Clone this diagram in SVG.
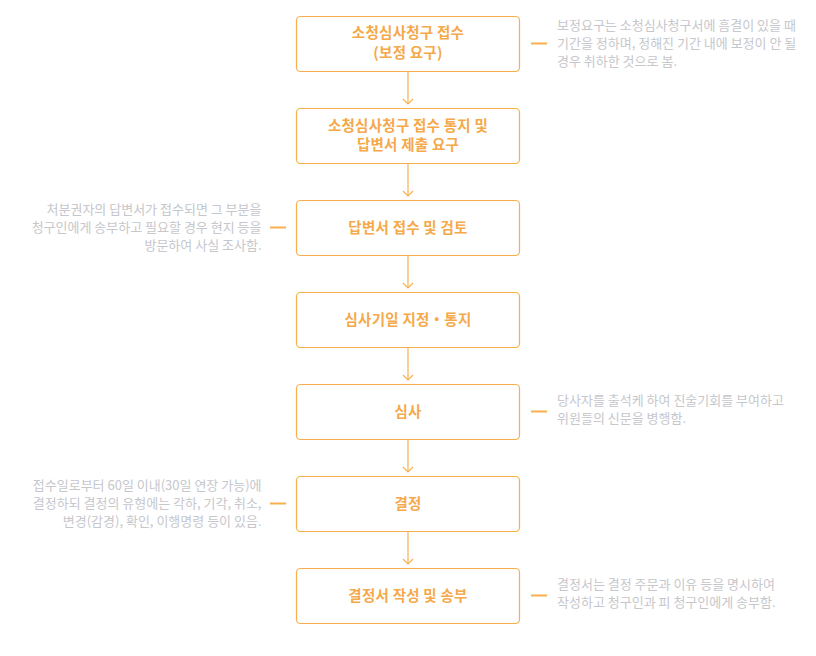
<svg xmlns="http://www.w3.org/2000/svg" width="816" height="656" viewBox="0 0 816 656">
<defs>
<style>
.box{fill:#fff;stroke:#F8B04E;stroke-width:1.2}
.t{font-family:"Noto Sans CJK KR","Noto Sans",sans-serif;font-size:14.5px;letter-spacing:0.25px;font-weight:bold;fill:#F5A94A;text-anchor:middle}
.n{font-family:"Noto Sans CJK KR","Noto Sans",sans-serif;font-size:13px;fill:#C6C7CC}
.r{text-anchor:end}
.dash{stroke:#F8B04E;stroke-width:2}
.con{stroke:#F8B04E;stroke-width:1.2;fill:none}
</style>
<marker id="arr" markerWidth="12" markerHeight="12" refX="10" refY="6" orient="auto" markerUnits="userSpaceOnUse">
<path d="M5,1 L10,6 L5,11" fill="none" stroke="#F8B04E" stroke-width="1.2"/>
</marker>
</defs>
<rect width="816" height="656" fill="#fff"/>
<g id="connectors">
<line class="con" x1="408" y1="72" x2="408" y2="104" marker-end="url(#arr)"/>
<line class="con" x1="408" y1="164" x2="408" y2="196" marker-end="url(#arr)"/>
<line class="con" x1="408" y1="256" x2="408" y2="288" marker-end="url(#arr)"/>
<line class="con" x1="408" y1="348" x2="408" y2="380" marker-end="url(#arr)"/>
<line class="con" x1="408" y1="440" x2="408" y2="472" marker-end="url(#arr)"/>
<line class="con" x1="408" y1="532" x2="408" y2="564" marker-end="url(#arr)"/>
</g>
<g id="n1">
<rect class="box" x="296.5" y="16.5" width="223" height="55" rx="4"/>
<text class="t" x="408" y="38">소청심사청구 접수</text>
<text class="t" x="408" y="57.5">(보정 요구)</text>
<line class="dash" x1="531" y1="43.5" x2="547" y2="43.5"/>
<text class="n" x="557" y="29.5">보정요구는 소청심사청구서에 흠결이 있을 때</text>
<text class="n" x="557" y="48">기간을 정하며, 정해진 기간 내에 보정이 안 될</text>
<text class="n" x="557" y="66">경우 취하한 것으로 봄.</text>
</g>
<g id="n2">
<rect class="box" x="296.5" y="108.5" width="223" height="55" rx="4"/>
<text class="t" x="408" y="130.5">소청심사청구 접수 통지 및</text>
<text class="t" x="408" y="149.5">답변서 제출 요구</text>
</g>
<g id="n3">
<rect class="box" x="296.5" y="200.5" width="223" height="55" rx="4"/>
<text class="t" x="408" y="233">답변서 접수 및 검토</text>
<line class="dash" x1="270" y1="227.5" x2="286" y2="227.5"/>
<text class="n r" x="261.5" y="214">처분권자의 답변서가 접수되면 그 부분을</text>
<text class="n r" x="261.5" y="232">청구인에게 송부하고 필요할 경우 현지 등을</text>
<text class="n r" x="261.5" y="250">방문하여 사실 조사함.</text>
</g>
<g id="n4">
<rect class="box" x="296.5" y="292.5" width="223" height="55" rx="4"/>
<text class="t" x="408" y="325">심사기일 지정・통지</text>
</g>
<g id="n5">
<rect class="box" x="296.5" y="384.5" width="223" height="55" rx="4"/>
<text class="t" x="408" y="417">심사</text>
<line class="dash" x1="531" y1="411.5" x2="547" y2="411.5"/>
<text class="n" x="557" y="405">당사자를 출석케 하여 진술기회를 부여하고</text>
<text class="n" x="557" y="423">위원들의 신문을 병행함.</text>
</g>
<g id="n6">
<rect class="box" x="296.5" y="476.5" width="223" height="55" rx="4"/>
<text class="t" x="408" y="509">결정</text>
<line class="dash" x1="270" y1="503.5" x2="286" y2="503.5"/>
<text class="n r" x="261.5" y="490">접수일로부터 60일 이내(30일 연장 가능)에</text>
<text class="n r" x="261.5" y="508">결정하되 결정의 유형에는 각하, 기각, 취소,</text>
<text class="n r" x="261.5" y="526">변경(감경), 확인, 이행명령 등이 있음.</text>
</g>
<g id="n7">
<rect class="box" x="296.5" y="568.5" width="223" height="55" rx="4"/>
<text class="t" x="408" y="601">결정서 작성 및 송부</text>
<line class="dash" x1="531" y1="595.5" x2="547" y2="595.5"/>
<text class="n" x="557" y="589">결정서는 결정 주문과 이유 등을 명시하여</text>
<text class="n" x="557" y="607">작성하고 청구인과 피 청구인에게 송부함.</text>
</g>
</svg>
